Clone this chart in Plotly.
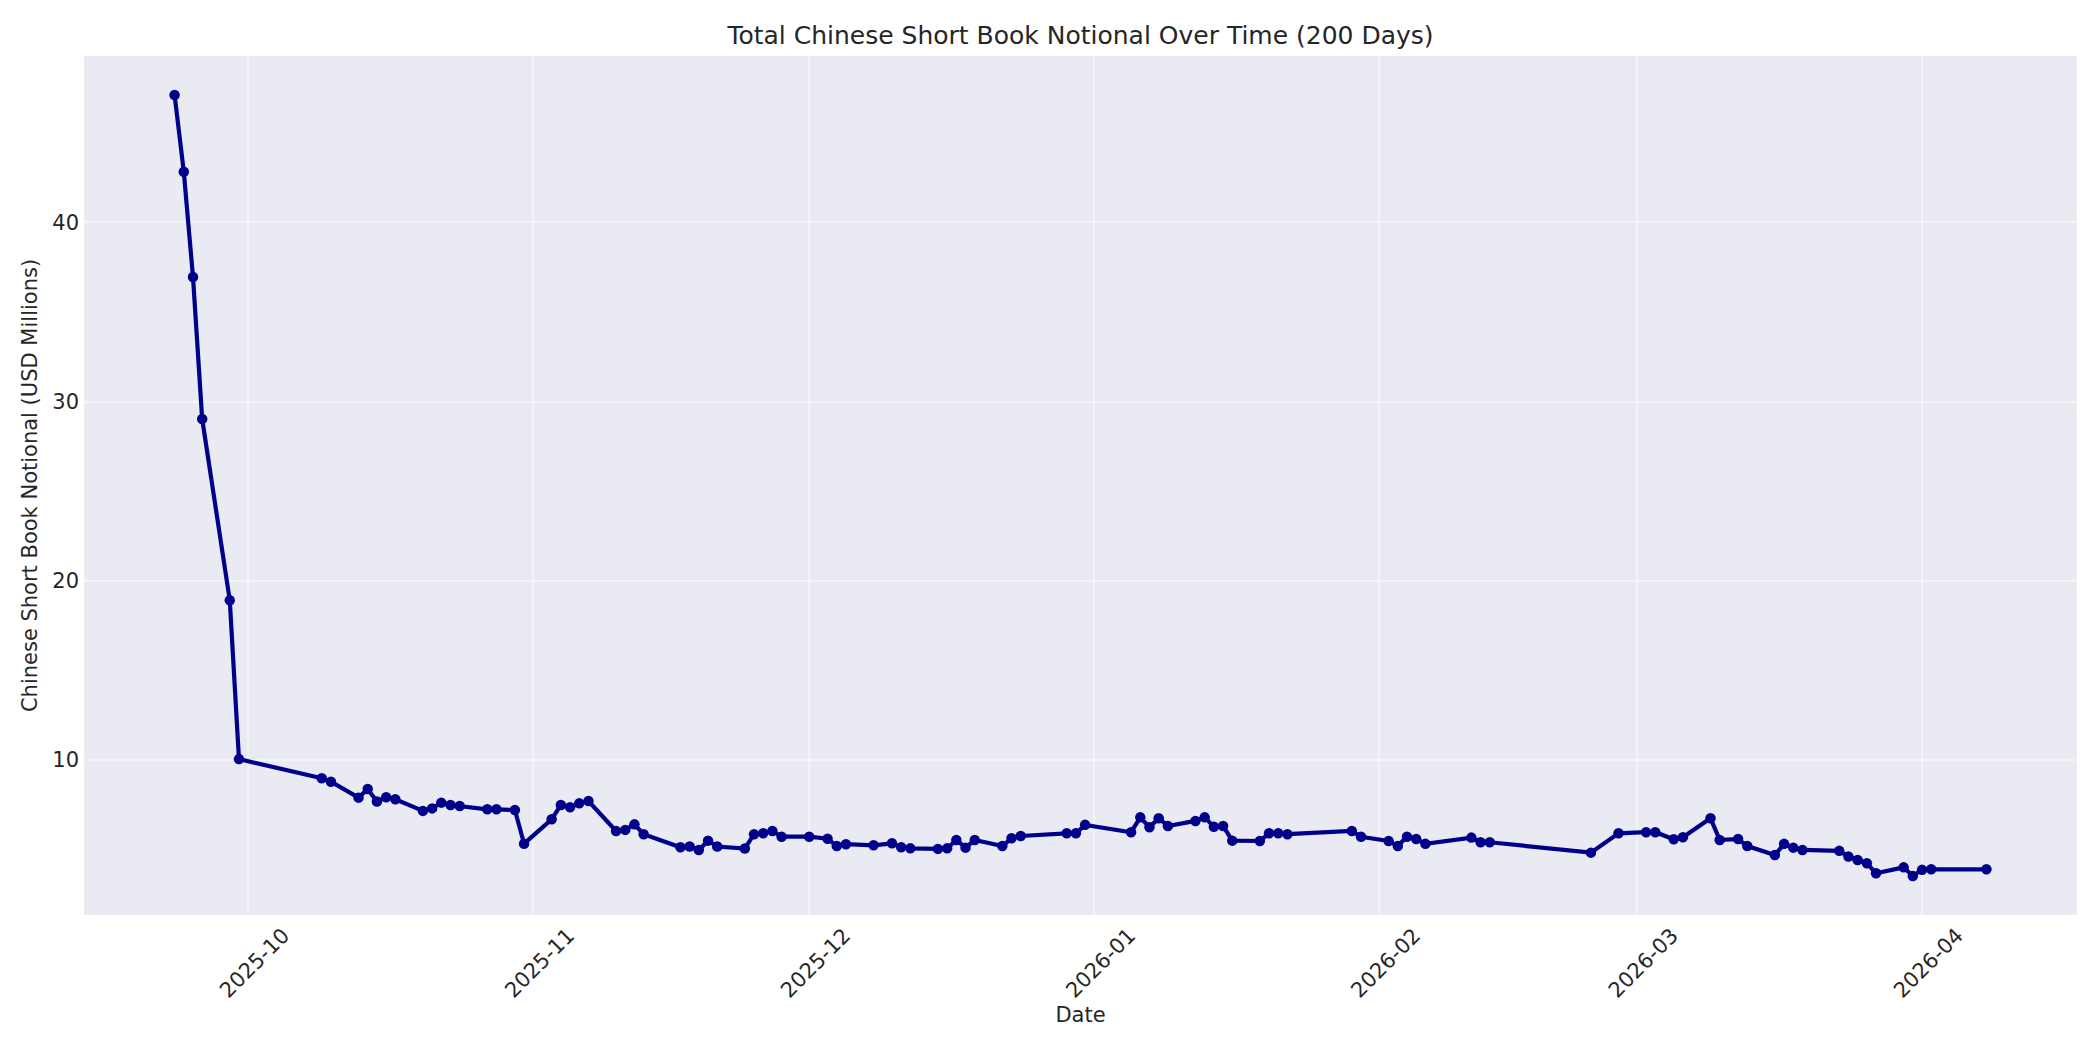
import pandas as pd
import plotly.graph_objects as go

# 每日空头账面名义金额 (USD Millions)
dates = [
    "2025-09-23", "2025-09-24", "2025-09-25", "2025-09-26", "2025-09-29", "2025-09-30",
    "2025-10-09", "2025-10-10", "2025-10-13", "2025-10-14", "2025-10-15", "2025-10-16",
    "2025-10-17", "2025-10-20", "2025-10-21", "2025-10-22", "2025-10-23", "2025-10-24",
    "2025-10-27", "2025-10-28", "2025-10-30", "2025-10-31", "2025-11-03", "2025-11-04",
    "2025-11-05", "2025-11-06", "2025-11-07", "2025-11-10", "2025-11-11", "2025-11-12",
    "2025-11-13", "2025-11-17", "2025-11-18", "2025-11-19", "2025-11-20", "2025-11-21",
    "2025-11-24", "2025-11-25", "2025-11-26", "2025-11-27", "2025-11-28", "2025-12-01",
    "2025-12-03", "2025-12-04", "2025-12-05", "2025-12-08", "2025-12-10", "2025-12-11",
    "2025-12-12", "2025-12-15", "2025-12-16", "2025-12-17", "2025-12-18", "2025-12-19",
    "2025-12-22", "2025-12-23", "2025-12-24", "2025-12-29", "2025-12-30", "2025-12-31",
    "2026-01-05", "2026-01-06", "2026-01-07", "2026-01-08", "2026-01-09", "2026-01-12",
    "2026-01-13", "2026-01-14", "2026-01-15", "2026-01-16", "2026-01-19", "2026-01-20",
    "2026-01-21", "2026-01-22", "2026-01-29", "2026-01-30", "2026-02-02", "2026-02-03",
    "2026-02-04", "2026-02-05", "2026-02-06", "2026-02-11", "2026-02-12", "2026-02-13",
    "2026-02-24", "2026-02-27", "2026-03-02", "2026-03-03", "2026-03-05", "2026-03-06",
    "2026-03-09", "2026-03-10", "2026-03-12", "2026-03-13", "2026-03-16", "2026-03-17",
    "2026-03-18", "2026-03-19", "2026-03-23", "2026-03-24", "2026-03-25", "2026-03-26",
    "2026-03-27", "2026-03-30", "2026-03-31", "2026-04-01", "2026-04-02", "2026-04-08",
]
notional = [
    47.10, 42.82, 36.95, 29.03, 18.91, 10.05,
    8.98, 8.79, 7.90, 8.38, 7.68, 7.92,
    7.81, 7.16, 7.30, 7.62, 7.49, 7.43,
    7.25, 7.25, 7.21, 5.33, 6.69, 7.49,
    7.36, 7.58, 7.71, 6.04, 6.10, 6.41,
    5.86, 5.13, 5.17, 4.98, 5.50, 5.17,
    5.06, 5.86, 5.91, 6.04, 5.72, 5.72,
    5.61, 5.20, 5.30, 5.24, 5.35, 5.13,
    5.07, 5.04, 5.07, 5.54, 5.11, 5.54,
    5.20, 5.63, 5.76, 5.91, 5.91, 6.38,
    5.97, 6.80, 6.25, 6.75, 6.32, 6.60,
    6.80, 6.28, 6.32, 5.50, 5.48, 5.91,
    5.91, 5.86, 6.04, 5.72, 5.48, 5.20,
    5.72, 5.59, 5.32, 5.67, 5.41, 5.41,
    4.83, 5.91, 5.97, 5.97, 5.58, 5.69,
    6.75, 5.54, 5.59, 5.20, 4.70, 5.32,
    5.11, 4.98, 4.93, 4.61, 4.42, 4.24,
    3.68, 4.01, 3.53, 3.87, 3.90, 3.90,
]
month_ticks = ["2025-10-01", "2025-11-01", "2025-12-01", "2026-01-01",
               "2026-02-01", "2026-03-01", "2026-04-01"]
y_ticks = [10, 20, 30, 40]

FONT = "DejaVu Sans"
TEXT = "#262626"
GRID = "rgba(255,255,255,0.45)"

# 页面 body 默认有 8px 外边距，这里把图缩小一点，避免出现滚动条
W, H = 2084, 1034


def build_chart():
    x = pd.to_datetime(pd.Series(dates))
    y = pd.Series(notional)

    # matplotlib 风格的 5% 边距
    x_pad = (x.max() - x.min()) * 0.05
    y_pad = (y.max() - y.min()) * 0.05

    fig = go.Figure()
    fig.add_trace(go.Scatter(
        x=x, y=y,
        mode="lines+markers",
        line=dict(color="#00008B", width=4.2),
        marker=dict(color="#00008B", size=10.5),
        name="Total Notional",
    ))

    fig.update_layout(
        width=W, height=H,
        margin=dict(l=76, r=15, t=48, b=127),
        paper_bgcolor="white",
        plot_bgcolor="#EAEAF2",
        showlegend=False,
        font=dict(family=FONT, size=21, color=TEXT),
        title=dict(
            text="Total Chinese Short Book Notional Over Time (200 Days)",
            font=dict(family=FONT, size=25, color=TEXT),
            x=0.5, xref="paper", xanchor="center",
            y=1 - 27 / H, yref="container", yanchor="middle",
        ),
    )

    fig.update_xaxes(
        type="date",
        range=[x.min() - x_pad, x.max() + x_pad],
        tickmode="array",
        tickvals=pd.to_datetime(month_ticks),
        ticktext=[d[:7] for d in month_ticks],
        tickangle=-45,
        ticklabelshift=35,
        ticklabelstandoff=3,
        ticks="",
        showgrid=True, gridcolor=GRID, gridwidth=1.5,
        zeroline=False, showline=False,
        title=dict(text="Date", standoff=4, font=dict(size=21)),
        automargin=False,
    )
    fig.update_yaxes(
        range=[y.min() - y_pad, y.max() + y_pad],
        tickmode="array",
        tickvals=y_ticks,
        ticks="",
        ticklabelstandoff=4,
        showgrid=True, gridcolor=GRID, gridwidth=1.5,
        zeroline=False, showline=False,
        title=dict(text="Chinese Short Book Notional (USD Millions)", standoff=8,
                   font=dict(size=21)),
        automargin=False,
    )
    return fig


if __name__ == "__main__":
    fig = build_chart()
    fig.write_html("out.html")
